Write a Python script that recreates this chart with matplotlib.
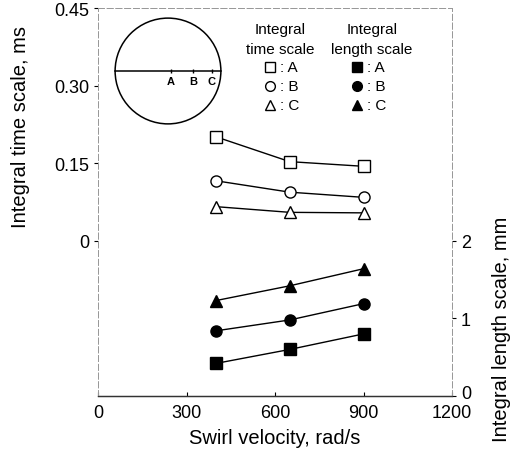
import numpy as np
import matplotlib
matplotlib.use("Agg")
import matplotlib.pyplot as plt
import matplotlib.transforms as mtransforms
from matplotlib.patches import Circle

plt.rcParams['font.family'] = ['Liberation Sans', 'DejaVu Sans']

# swirl velocity, rad/s
swirl = [400, 650, 900]

# integral time scale, ms (left axis)
time_A = [0.201, 0.153, 0.144]
time_B = [0.116, 0.094, 0.084]
time_C = [0.066, 0.055, 0.054]

# integral length scale, mm (right axis)
len_A = [0.42, 0.60, 0.80]
len_B = [0.84, 0.98, 1.19]
len_C = [1.23, 1.42, 1.64]

markers = ['s', 'o', '^']
points = ['A', 'B', 'C']

fig = plt.figure(figsize=(5.11, 4.52), dpi=100)
ax = fig.add_axes([98/511, 55/452, 354/511, 388/452])
ax2 = ax.twinx()

for vals, m in zip([time_A, time_B, time_C], markers):
    ax.plot(swirl, vals, color='black', lw=1, marker=m, ms=8,
            mfc='white', mec='black', mew=1)
for vals, m in zip([len_A, len_B, len_C], markers):
    ax2.plot(swirl, vals, color='black', lw=1, marker=m, ms=8,
             mfc='black', mec='black')

ax.set_xlim(0, 1200)
ax.set_ylim(-0.30, 0.45)
ax2.set_ylim(0, 5)

ax.set_xticks([0, 300, 600, 900, 1200])
ax.set_yticks([0, 0.15, 0.30, 0.45])
ax.set_yticklabels(['0', '0.15', '0.30', '0.45'])
ax2.set_yticks([0, 1, 2])

ax.tick_params(axis='x', direction='in', length=3, labelsize=13, pad=6)
ax.tick_params(axis='y', direction='out', length=3, labelsize=13)
ax2.tick_params(axis='y', direction='out', length=3, labelsize=13)

for a in (ax, ax2):
    for side in ['left', 'top', 'right']:
        a.spines[side].set_color('#999999')
        a.spines[side].set_linewidth(0.7)
        a.spines[side].set_linestyle((0, (6, 3)))
    a.spines['bottom'].set_color('#333333')
    a.spines['bottom'].set_linewidth(0.9)

ax.set_xlabel('Swirl velocity, rad/s', fontsize=14.5, labelpad=5)
ax.set_ylabel('Integral time scale, ms', fontsize=14.5)
ax.yaxis.set_label_coords(-0.22, 0.696)
ax2.set_ylabel('Integral length scale, mm', fontsize=14.5, rotation=90)
ax2.yaxis.set_label_coords(1.141, 0.175)
ax2.yaxis.label.set_verticalalignment('center')
ax.yaxis.label.set_verticalalignment('center')

# nudge the right-axis "0" up so it clears "1200"
lbl0 = ax2.get_yticklabels()[0]
lbl0.set_transform(lbl0.get_transform() +
                   mtransforms.ScaledTranslation(0, 3/72, fig.dpi_scale_trans))

# legend drawn as text block
def px(x, y):
    return x / 511, 1 - y / 452

fs = 11
fig.text(*px(280, 30), 'Integral', ha='center', va='center', fontsize=fs)
fig.text(*px(280, 50), 'time scale', ha='center', va='center', fontsize=fs)
fig.text(*px(372, 30), 'Integral', ha='center', va='center', fontsize=fs)
fig.text(*px(372, 50), 'length scale', ha='center', va='center', fontsize=fs)
for i, (m, p) in enumerate(zip(markers, points)):
    y = [68, 87, 106][i]
    fig.lines.append(plt.Line2D([px(270, y)[0]], [px(270, y)[1]], marker=m, ms=7,
                                mfc='white', mec='black', mew=1,
                                transform=fig.transFigure))
    fig.text(*px(280, y), ': ' + p, ha='left', va='center', fontsize=fs)
    fig.lines.append(plt.Line2D([px(357, y)[0]], [px(357, y)[1]], marker=m, ms=7,
                                mfc='black', mec='black',
                                transform=fig.transFigure))
    fig.text(*px(367, y), ': ' + p, ha='left', va='center', fontsize=fs)

# inset: cylinder cross-section with measuring points
ins = fig.add_axes([113/511, 1 - 127/452, 110/511, 110/452])
ins.set_xlim(-1.04, 1.04)
ins.set_ylim(-1.04, 1.04)
ins.set_aspect('equal')
ins.axis('off')
ins.add_patch(Circle((0, 0), 1, fill=False, lw=1.1, color='black'))
ins.plot([-1, 1], [0, 0], color='black', lw=1.1)
pos = [0.05, 0.48, 0.83]
ins.plot(pos, [0, 0, 0], 'k|', ms=3)
for xp, p in zip(pos, points):
    ins.text(xp, -0.1, p, ha='center', va='top', fontsize=8, fontweight='bold')

fig.savefig('out.png', dpi=100)
